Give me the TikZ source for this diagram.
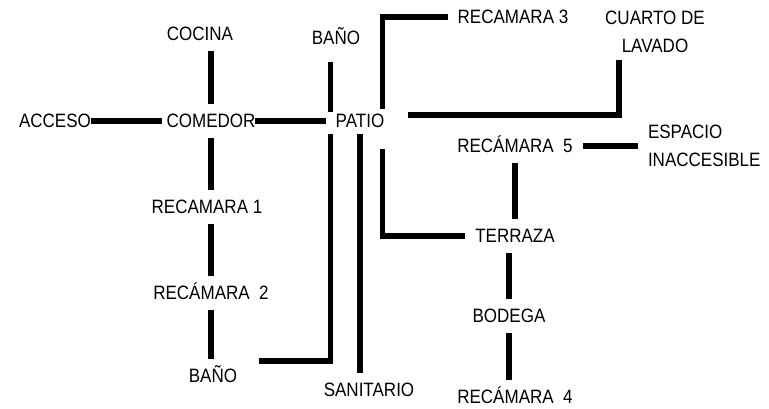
\documentclass[tikz,border=0pt]{standalone}
\usepackage{fontspec}
\newfontfamily\roomfont[FakeStretch=0.88]{Liberation Sans}
\tikzset{
  room/.style={font=\roomfont\fontsize{14.5}{21}\selectfont, inner sep=0pt, outer sep=7.5pt,
    text height=10.5pt, text depth=0pt},
  roomtwo/.style={room, align=center, text height={}, text depth={}},
  link/.style={line width=4pt},
  hlink/.style={line width=4.8pt},
}

\begin{document}
\begin{tikzpicture}[x=0.75pt, y=-0.75pt]
  \useasboundingbox (0,0) rectangle (769,409);
  % rooms
  \node[room] (cocina) at (200,34) {COCINA};
  \node[room] (banoarriba) at (336,38) {BAÑO};
  \node[room] (acceso) at (55,121) {ACCESO};
  \node[room] (comedor) at (211,121) {COMEDOR};
  \node[room] (patio) at (360,121) {PATIO};
  \node[room] (recamaratres) at (513,17) {RECAMARA 3};
  \node[roomtwo, anchor=north] (cuarto) at (655,1) {CUARTO DE\\LAVADO};
  \node[room] (recamaracinco) at (515,146) {RECÁMARA~~5};
  \node[roomtwo, align=left, anchor=north west] (espacio) at (638,115) {ESPACIO\\INACCESIBLE};
  \node[room] (recamarauno) at (207,207) {RECAMARA 1};
  \node[room] (recamarados) at (211,293) {RECÁMARA~~2};
  \node[room] (banoabajo) at (213,376) {BAÑO};
  \node[room] (sanitario) at (369,390) {SANITARIO};
  \node[room] (terraza) at (515,236) {TERRAZA};
  \node[room] (bodega) at (509,316) {BODEGA};
  \node[room] (recamaracuatro) at (515,397) {RECÁMARA~~4};
  % west wing
  \draw[link] (cocina.south -| comedor) -- (comedor.north);
  \draw[hlink, shorten <=-7.5pt, shorten >=-3.75pt] (acceso) -- (comedor);
  \draw[hlink, shorten <=-7.5pt] (comedor) -- (patio);
  \draw[link] (comedor.south) -- (comedor.south |- recamarauno.north);
  \draw[link] (recamarauno.south -| comedor) -- (comedor |- recamarados.north);
  \draw[link] (recamarados) -- (recamarados |- banoabajo.north);
  % patio
  \draw[link] ([shift={(5,7)}]banoarriba.south -| patio.west) -- ([shift={(5,8)}]patio.north west);
  \draw[link] ([shift={(12,2)}]banoabajo.north east) -| ([shift={(5,-4)}]patio.south west);
  \draw[link] ([yshift=3pt]patio.south) -- (patio.south |- sanitario.north);
  \draw[link] ([shift={(-12,5)}]patio.north east) |- (recamaratres.west);
  \draw[link] ([shift={(14,-6)}]patio.east) -| ([shift={(-36,-3)}]cuarto.south);
  \draw[link] ([shift={(-12,11)}]patio.south east) |- (terraza.west);
  % east wing
  \draw[hlink] (recamaracinco.east) -- (recamaracinco.east -| espacio.west);
  \draw[link] (recamaracinco) -- (terraza);
  \draw[link] (terraza.south -| bodega) -- (bodega.north);
  \draw[link] (bodega) -- (bodega |- recamaracuatro.north);
\end{tikzpicture}
\end{document}
